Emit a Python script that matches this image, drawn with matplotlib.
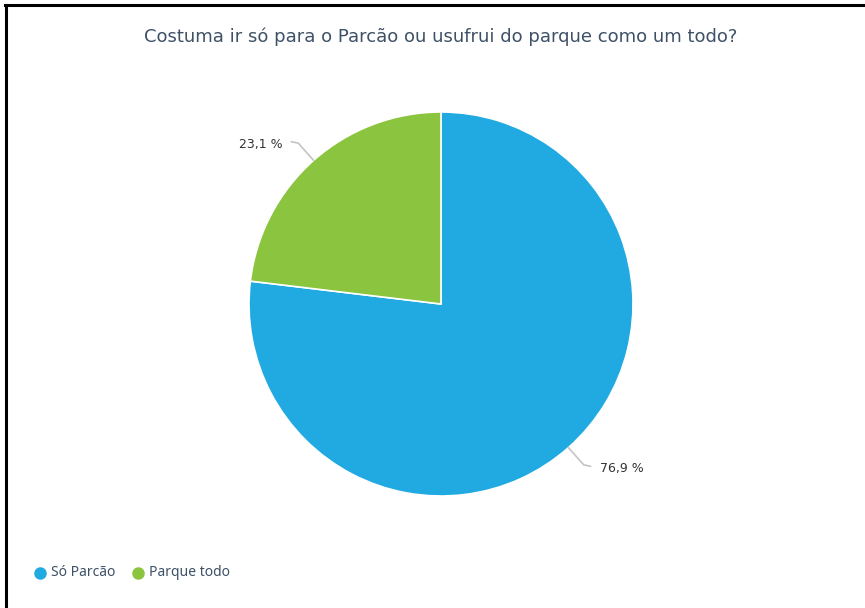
import numpy as np
import matplotlib.pyplot as plt

# Survey answers
title = "Costuma ir só para o Parcão ou usufrui do parque como um todo?"
categories = ["Só Parcão", "Parque todo"]
shares = [76.9, 23.1]
colors = ["#21a9e1", "#8bc53f"]

W, H = 865, 608
fig = plt.figure(figsize=(W / 100, H / 100), dpi=100)
ax = fig.add_axes([0, 0, 1, 1])

cx, cy, r = 441, H - 304, 192
wedges, _ = ax.pie(shares, colors=colors, startangle=90, counterclock=False,
                   center=(cx, cy), radius=r,
                   wedgeprops=dict(edgecolor="white", linewidth=1.2))

ax.set_xlim(0, W)
ax.set_ylim(0, H)
ax.set_aspect("equal")
ax.axis("off")

# Percentage labels with leader lines from each wedge's mid angle
for w, v in zip(wedges, shares):
    mid = np.deg2rad((w.theta1 + w.theta2) / 2)
    dx, dy = np.cos(mid), np.sin(mid)
    x0, y0 = cx + r * dx, cy + r * dy
    x1, y1 = cx + (r + 23) * dx, cy + (r + 23) * dy
    side = 1 if dx > 0 else -1
    x2 = x1 + side * 7
    y2 = y1 - 1.5 * side
    ax.plot([x0, x1, x2], [y0, y1, y2], color="#c4c4c4", lw=1.2,
            solid_capstyle="round", solid_joinstyle="round")
    ax.text(x2 + side * 9, y2 - 2.5, f"{v:.1f} %".replace(".", ","),
            ha="left" if side > 0 else "right", va="center",
            fontsize=9, color="#333333", family="DejaVu Sans")

ax.text(cx, H - 37, title, ha="center", va="center", fontsize=13,
        color="#3e5167", family="DejaVu Sans")

# Legend row at the bottom
lx = [40, 138]
for x, c, name in zip(lx, colors, categories):
    ax.plot(x, H - 573, "o", color=c, ms=8)
    ax.text(x + 11, H - 573, name, ha="left", va="center", fontsize=10,
            color="#3e5167", family="Noto Sans")

# Frame lines on the top and left edges
ax.plot([5, W], [H - 4.5, H - 4.5], color="black", lw=2.2)
ax.plot([5.5, 5.5], [0, H - 4.5], color="black", lw=2.2)

fig.savefig("out.png", dpi=100, facecolor="white")
